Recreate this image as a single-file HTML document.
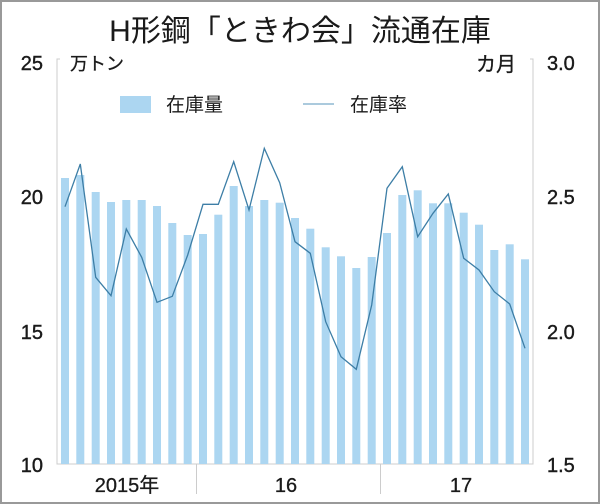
<!DOCTYPE html>
<html><head><meta charset="utf-8"><style>
html,body{margin:0;padding:0;background:#fff}
svg{display:block}
text{font-family:"Liberation Sans","Noto Sans CJK JP",sans-serif;fill:#1a1a1a}
</style></head><body>
<svg width="600" height="504" viewBox="0 0 600 504" xmlns="http://www.w3.org/2000/svg">
<rect x="1" y="1" width="598" height="502" fill="#fff" stroke="#999" stroke-width="2"/>
<text x="300" y="41" font-size="30" text-anchor="middle">H形鋼「ときわ会」流通在庫</text>
<g font-size="20" stroke="#1a1a1a" stroke-width="0.4">
<text x="43" y="70" text-anchor="end">25</text>
<text x="43" y="204" text-anchor="end">20</text>
<text x="43" y="339" text-anchor="end">15</text>
<text x="43" y="472" text-anchor="end">10</text>
<text x="547" y="70">3.0</text>
<text x="547" y="204">2.5</text>
<text x="547" y="339">2.0</text>
<text x="547" y="472">1.5</text>
</g>
<text x="70" y="70" font-size="18" stroke="#1a1a1a" stroke-width="0.3">万トン</text>
<text x="516" y="71" font-size="20" text-anchor="end" stroke="#1a1a1a" stroke-width="0.3">カ月</text>
<rect x="120" y="96" width="31" height="17" fill="#acd6f1"/>
<text x="166" y="111" font-size="19">在庫量</text>
<line x1="303" y1="104" x2="334" y2="104" stroke="#8fb8d2" stroke-width="1.5"/>
<text x="350" y="111" font-size="19">在庫率</text>
<g stroke="#ccc" stroke-width="1" fill="none">
<path d="M60,59 H57 V464 H533 V59 H530"/>
<line x1="196.5" y1="464" x2="196.5" y2="494"/>
<line x1="380.5" y1="464" x2="380.5" y2="494"/>
</g>
<g fill="#acd6f1">
<rect x="61" y="178" width="8" height="286"/>
<rect x="76.3" y="175" width="8" height="289"/>
<rect x="91.7" y="192" width="8" height="272"/>
<rect x="107" y="202" width="8" height="262"/>
<rect x="122.3" y="200" width="8" height="264"/>
<rect x="137.7" y="200" width="8" height="264"/>
<rect x="153" y="206" width="8" height="258"/>
<rect x="168.3" y="223" width="8" height="241"/>
<rect x="183.7" y="235" width="8" height="229"/>
<rect x="199" y="234" width="8" height="230"/>
<rect x="214.3" y="214.7" width="8" height="249.3"/>
<rect x="229.7" y="186" width="8" height="278"/>
<rect x="245" y="206" width="8" height="258"/>
<rect x="260.3" y="200" width="8" height="264"/>
<rect x="275.7" y="202.7" width="8" height="261.3"/>
<rect x="291" y="218" width="8" height="246"/>
<rect x="306.3" y="228.7" width="8" height="235.3"/>
<rect x="321.7" y="247.3" width="8" height="216.7"/>
<rect x="337" y="256.3" width="8" height="207.7"/>
<rect x="352.3" y="268" width="8" height="196"/>
<rect x="367.7" y="257" width="8" height="207"/>
<rect x="383" y="233" width="8" height="231"/>
<rect x="398.3" y="195" width="8" height="269"/>
<rect x="413.7" y="190.3" width="8" height="273.7"/>
<rect x="429" y="203.3" width="8" height="260.7"/>
<rect x="444.3" y="203.3" width="8" height="260.7"/>
<rect x="459.7" y="212.7" width="8" height="251.3"/>
<rect x="475" y="224.7" width="8" height="239.3"/>
<rect x="490.3" y="250" width="8" height="214"/>
<rect x="505.7" y="244.3" width="8" height="219.7"/>
<rect x="521" y="259.3" width="8" height="204.7"/>
</g>
<polyline fill="none" stroke="#3d7ea6" stroke-width="1.3" points="65,206.7 80.3,164 95.7,277.3 111,295.7 126.3,229 141.7,257.3 157,302.3 172.3,296.3 187.7,255 203,204.3 218.3,204.3 233.7,161.7 249,210 264.3,148.3 279.7,182.7 295,241.7 310.3,253.3 325.7,321.7 341,356.7 356.3,369.3 371.7,305 387,188.3 402.3,166.7 417.7,236.7 433,213.3 448.3,194 463.7,258.3 479,270 494.3,291.7 509.7,304 525,348.3"/>
<g font-size="20" stroke="#1a1a1a" stroke-width="0.3">
<text x="127" y="492" text-anchor="middle">2015年</text>
<text x="286" y="492" text-anchor="middle">16</text>
<text x="461" y="492" text-anchor="middle">17</text>
</g>
</svg>
</body></html>
